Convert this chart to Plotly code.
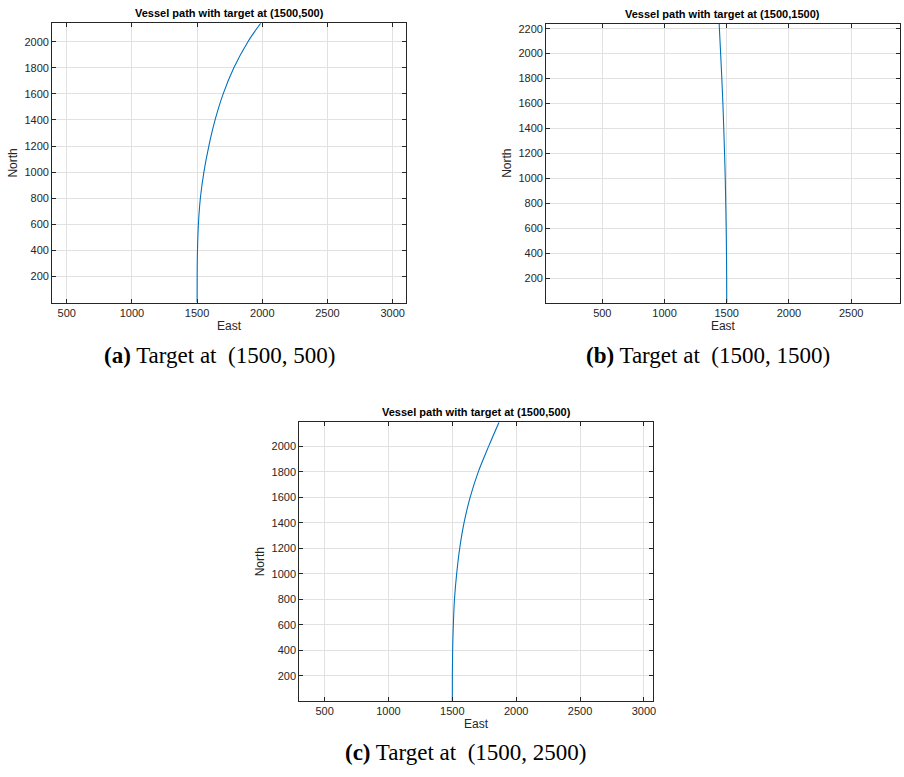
import plotly.graph_objects as go

# ---- data ----
a_north = [0, 200, 400, 600, 800, 1000, 1200, 1400, 1600, 1800, 2000, 2141]
a_east = [1500, 1500.4, 1503, 1510, 1525, 1552, 1590, 1638, 1700, 1782, 1890, 1988]

b_north = [0, 200, 400, 600, 800, 1000, 1200, 1400, 1600, 1800, 2000, 2240]
b_east = [1500, 1499.5, 1498, 1495.5, 1492, 1488, 1482.5, 1476, 1469, 1460.5, 1451, 1439]

c_north = [0, 200, 400, 600, 800, 1000, 1200, 1400, 1600, 1800, 2000, 2188]
c_east = [1500, 1500.4, 1502.5, 1508, 1517, 1534, 1558, 1592, 1640, 1704, 1785, 1866]

titles = ["Vessel path with target at (1500,500)",
          "Vessel path with target at (1500,1500)",
          "Vessel path with target at (1500,500)"]
captions = ["<b>(a)</b> Target at &nbsp;(1500, 500)",
            "<b>(b)</b> Target at &nbsp;(1500, 1500)",
            "<b>(c)</b> Target at &nbsp;(1500, 2500)"]

x_ticks_ac = [500, 1000, 1500, 2000, 2500, 3000]
x_ticks_b = [500, 1000, 1500, 2000, 2500]
y_ticks_ac = [200, 400, 600, 800, 1000, 1200, 1400, 1600, 1800, 2000]
y_ticks_b = [200, 400, 600, 800, 1000, 1200, 1400, 1600, 1800, 2000, 2200]

W, H = 904, 777
LINE = "#0072BD"
AX = "#262626"
GRID = "#e1e1e1"

# panel boxes in pixels: left, right, top, bottom
boxes = [(52.3, 407.3, 22.3, 302.0),
         (548.0, 902.7, 22.7, 302.0),
         (300.3, 655.0, 421.7, 701.0)]
xranges = [[388, 3102], [49, 2890], [302, 3070]]
yranges = [[0, 2141], [4, 2240], [2, 2188]]
xtickss = [x_ticks_ac, x_ticks_b, x_ticks_ac]
ytickss = [y_ticks_ac, y_ticks_b, y_ticks_ac]
series = [(a_east, a_north), (b_east, b_north), (c_east, c_north)]

fig = go.Figure()
layout = dict(width=W, height=H, margin=dict(l=0, r=0, t=0, b=0),
              paper_bgcolor="white", plot_bgcolor="white", showlegend=False,
              font=dict(family="Liberation Sans, Arial, sans-serif", size=11, color=AX))
annotations = []

for i, ((xs, ys), (l, r, t, b)) in enumerate(zip(series, boxes)):
    n = "" if i == 0 else str(i + 1)
    fig.add_trace(go.Scatter(x=xs, y=ys, mode="lines", line=dict(color=LINE, width=1.1, shape="spline"),
                             xaxis="x" + n, yaxis="y" + n, hoverinfo="skip"))
    common = dict(showline=True, linecolor=AX, linewidth=1, mirror="ticks", ticks="inside",
                  ticklen=4, tickcolor=AX, showgrid=True, gridcolor=GRID, gridwidth=1,
                  zeroline=False, tickfont=dict(size=11, color=AX), autorange=False)
    layout["xaxis" + n] = dict(domain=[l / W, r / W], range=xranges[i], tickvals=xtickss[i],
                               anchor="y" + n,
                               title=dict(text="East", standoff=3, font=dict(size=12, color=AX)),
                               **common)
    layout["yaxis" + n] = dict(domain=[1 - b / H, 1 - t / H], range=yranges[i], tickvals=ytickss[i],
                               anchor="x" + n,
                               title=dict(text="North", standoff=4, font=dict(size=12, color=AX)),
                               **common)
    annotations.append(dict(text="<b>" + titles[i] + "</b>", xref="paper", yref="paper",
                            x=(l + r) / 2 / W, y=1 - (t - 2) / H, xanchor="center", yanchor="bottom",
                            showarrow=False, font=dict(size=11, color="black")))

cap_pos = [(220, 355), (710, 355), (468, 752)]
for (cx, cy), txt in zip(cap_pos, captions):
    annotations.append(dict(text=txt, xref="paper", yref="paper", x=cx / W, y=1 - cy / H,
                            xanchor="center", yanchor="middle", showarrow=False,
                            font=dict(family="Liberation Serif, Times New Roman, serif", size=23,
                                      color="black")))

layout["annotations"] = annotations
fig.update_layout(**layout)
fig.write_html("out.html", config={"displayModeBar": False},
               post_script="document.body.style.margin='0';document.body.style.overflow='hidden';")
